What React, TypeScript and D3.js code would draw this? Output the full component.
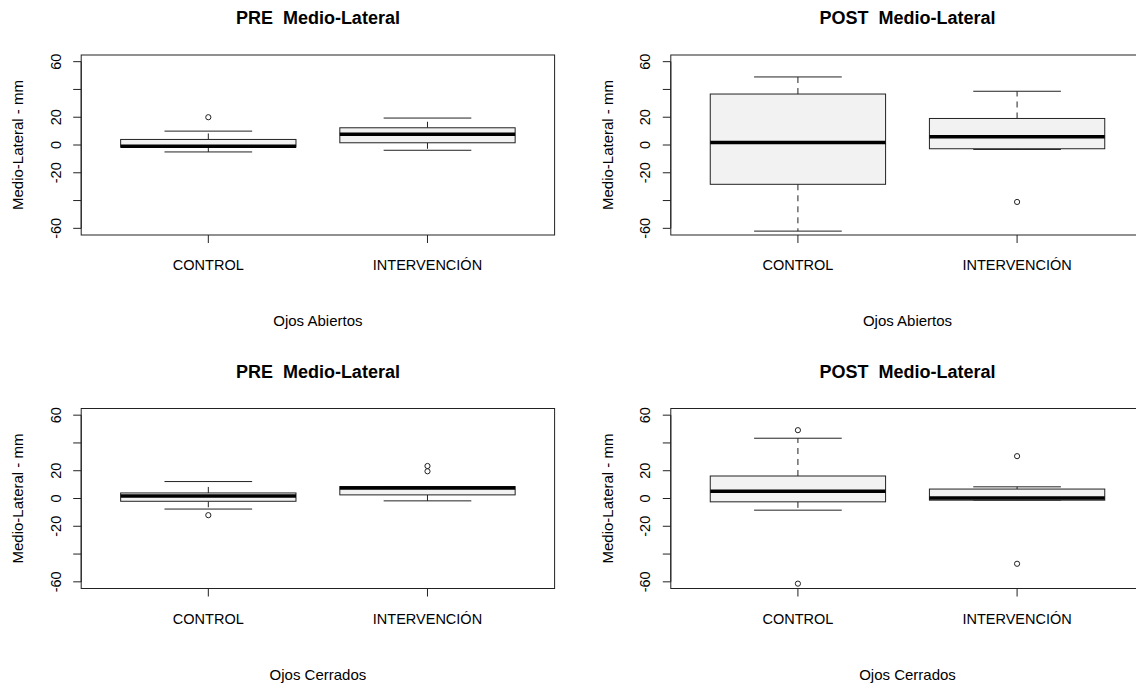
import React from "react";
import * as d3 from "d3";

// Categories
const groups = ["CONTROL", "INTERVENCIÓN"];
const yTicks = [-60, -40, -20, 0, 20, 40, 60];
const yTickLabels = ["-60", "", "-20", "0", "20", "", "60"];

// Box statistics: [lower whisker, Q1, median, Q3, upper whisker]
const preOA_control = [-5, -1.5, -0.9, 4, 10];
const preOA_control_out = [20];
const preOA_interv = [-3.8, 1.6, 7.8, 12.4, 19.4];
const preOA_interv_out: number[] = [];

const postOA_control = [-62, -28.3, 1.8, 36.7, 49];
const postOA_control_out: number[] = [];
const postOA_interv = [-3.2, -2.7, 5.9, 19.1, 38.7];
const postOA_interv_out = [-41];

const preOC_control = [-7.6, -2, 1.8, 4, 12.2];
const preOC_control_out = [-12];
const preOC_interv = [-1.7, 2.6, 7.6, 8.6, 8.6];
const preOC_interv_out = [19.6, 23.4];

const postOC_control = [-8.4, -2.4, 5.3, 16.2, 43.4];
const postOC_control_out = [49.2, -61.3];
const postOC_interv = [-1.2, -1.2, 0.4, 6.8, 8.4];
const postOC_interv_out = [30.5, -47];

const titles = ["PRE\u00A0\u00A0Medio-Lateral", "POST\u00A0\u00A0Medio-Lateral", "PRE\u00A0\u00A0Medio-Lateral", "POST\u00A0\u00A0Medio-Lateral"];
const xLabels = ["Ojos Abiertos", "Ojos Abiertos", "Ojos Cerrados", "Ojos Cerrados"];
const yLabel = "Medio-Lateral - mm";

const panels = [
  { stats: [preOA_control, preOA_interv], outs: [preOA_control_out, preOA_interv_out] },
  { stats: [postOA_control, postOA_interv], outs: [postOA_control_out, postOA_interv_out] },
  { stats: [preOC_control, preOC_interv], outs: [preOC_control_out, preOC_interv_out] },
  { stats: [postOC_control, postOC_interv], outs: [postOC_control_out, postOC_interv_out] },
];

const FONT = "'Liberation Sans', Arial, sans-serif";
const LINE = "#222";

function Panel({ idx, left, top }: { idx: number; left: number; top: number }) {
  const p = panels[idx];
  const x = d3.scaleLinear().domain([0.42, 2.58]).range([left, left + 473.4]);
  const y = d3.scaleLinear().domain([-64.8, 64.8]).range([top + 180, top]);
  const plotLeft = x(0.42);
  const plotRight = x(2.58);
  const bottom = y(-64.8);
  const cx = (plotLeft + plotRight) / 2;
  return (
    <g>
      <text x={cx} y={top - 31} textAnchor="middle" fontFamily={FONT} fontWeight="bold" fontSize={18} fill="#000">
        {titles[idx]}
      </text>
      {/* boxes */}
      {p.stats.map((s, i) => {
        const c = x(i + 1);
        const hw = 0.4 * (x(1) - x(0));
        const sw = 0.2 * (x(1) - x(0));
        return (
          <g key={i}>
            <line x1={c} x2={c} y1={y(s[3])} y2={y(s[4])} stroke={LINE} strokeWidth={1} strokeDasharray="6,5" />
            <line x1={c} x2={c} y1={y(s[1])} y2={y(s[0])} stroke={LINE} strokeWidth={1} strokeDasharray="6,5" />
            <line x1={c - sw} x2={c + sw} y1={y(s[4])} y2={y(s[4])} stroke={LINE} strokeWidth={1} />
            <line x1={c - sw} x2={c + sw} y1={y(s[0])} y2={y(s[0])} stroke={LINE} strokeWidth={1} />
            <rect x={c - hw} y={y(s[3])} width={2 * hw} height={y(s[1]) - y(s[3])} fill="#f2f2f2" stroke={LINE} strokeWidth={1} />
            <line x1={c - hw} x2={c + hw} y1={y(s[2])} y2={y(s[2])} stroke="#000" strokeWidth={3.5} />
            {p.outs[i].map((o, j) => (
              <circle key={j} cx={c} cy={y(o)} r={2.6} fill="none" stroke={LINE} strokeWidth={1} />
            ))}
          </g>
        );
      })}
      {/* plot frame */}
      <rect x={plotLeft} y={top} width={plotRight - plotLeft} height={bottom - top} fill="none" stroke={LINE} strokeWidth={1} />
      {/* y axis */}
      <line x1={plotLeft} x2={plotLeft} y1={y(60)} y2={y(-60)} stroke={LINE} />
      {yTicks.map((t, i) => (
        <g key={t}>
          <line x1={plotLeft - 8} x2={plotLeft} y1={y(t)} y2={y(t)} stroke={LINE} />
          {yTickLabels[i] !== "" && (
            <text
              transform={`translate(${plotLeft - 20.5},${y(t)}) rotate(-90)`}
              textAnchor="middle"
              fontFamily={FONT}
              fontSize={14.5}
              fill="#000"
            >
              {yTickLabels[i]}
            </text>
          )}
        </g>
      ))}
      <text
        transform={`translate(${plotLeft - 58},${(top + bottom) / 2}) rotate(-90)`}
        textAnchor="middle"
        fontFamily={FONT}
        fontSize={15}
        fill="#000"
      >
        {yLabel}
      </text>
      {/* x axis */}
      {groups.map((g, i) => (
        <g key={g}>
          <line x1={x(i + 1)} x2={x(i + 1)} y1={bottom} y2={bottom + 8} stroke={LINE} />
          <text x={x(i + 1)} y={bottom + 35} textAnchor="middle" fontFamily={FONT} fontSize={14.5} fill="#000">
            {g}
          </text>
        </g>
      ))}
      <text x={cx} y={bottom + 91} textAnchor="middle" fontFamily={FONT} fontSize={15} fill="#000">
        {xLabels[idx]}
      </text>
    </g>
  );
}

export default function App() {
  return (
    <svg
      width={1136}
      height={686}
      style={{ position: "absolute", left: 0, top: 0, background: "#fff" }}
    >
      <rect x={0} y={0} width={1136} height={686} fill="#fff" />
      <Panel idx={0} left={81.2} top={55} />
      <Panel idx={1} left={670.8} top={55} />
      <Panel idx={2} left={81.2} top={408.5} />
      <Panel idx={3} left={670.8} top={408.5} />
    </svg>
  );
}
